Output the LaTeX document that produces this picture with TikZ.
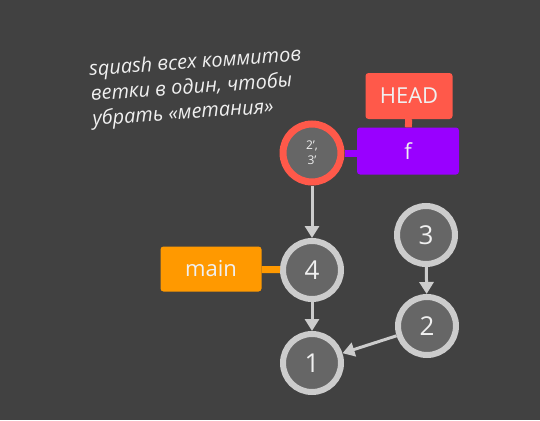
\documentclass[tikz,border=0pt]{standalone}
\usepackage{fontspec}
\setmainfont{Open Sans}
\usetikzlibrary{arrows.meta}
\definecolor{bgGrey}{RGB}{65,65,65}
\definecolor{nodeGrey}{RGB}{102,102,102}
\definecolor{ringGrey}{RGB}{204,204,204}
\definecolor{headRed}{RGB}{255,89,74}
\definecolor{mainOrange}{RGB}{255,153,0}
\definecolor{branchPurple}{RGB}{153,0,255}
\definecolor{inkWhite}{RGB}{240,240,240}

\begin{document}
\begin{tikzpicture}[x=1pt,y=-1pt,
  commit/.style={circle,fill=nodeGrey,draw=ringGrey,line width=6pt,minimum size=58pt,inner sep=0pt,text=inkWhite,font=\fontsize{26}{26}\selectfont},
  tagbox/.style={rounded corners=3pt,minimum height=45pt,inner sep=0pt,text=inkWhite,font=\fontsize{22}{22}\selectfont},
  parent/.style={draw=ringGrey,line width=3pt,-{Triangle[width=14pt,length=12pt]}},
  link/.style={line width=7pt}]
  \fill[bgGrey] (0,0) rectangle (540,420);
  % commits
  \node[commit,draw=headRed,line width=7pt,font=\fontsize{12}{15}\selectfont,align=center] (sq) at (312,153) {2’,\\3’};
  \node[commit] (c4) at (312,270) {4};
  \node[commit] (c1) at (312,363) {1};
  \node[commit] (c3) at (426,235) {3};
  \node[commit] (c2) at (427,326) {2};
  % refs
  \node[tagbox,fill=mainOrange,minimum width=101pt] (main) at (211,269) {main};
  \node[tagbox,fill=branchPurple,minimum width=102pt,minimum height=47pt] (f) at (408,151) {f};
  \node[tagbox,fill=headRed,minimum width=87pt,minimum height=46pt] (head) at (409,96) {HEAD};
  \draw[link,mainOrange] (main) -- (c4);
  \draw[link,branchPurple] (sq.east) -- (sq.east -| f.west);
  \draw[link,headRed] (head) -- (f);
  % parents
  \draw[parent] (sq) -- (c4);
  \draw[parent] (c4) -- (c1);
  \draw[parent] (c3) -- (c2);
  \draw[parent] (c2) -- (c1);
  \node[rotate=4,align=left,text=inkWhite,font=\itshape\fontsize{20}{25}\selectfont] (note) at (197,88) {squash всех коммитов\\ветки в один, чтобы\\убрать «метания»};
\end{tikzpicture}
\end{document}
